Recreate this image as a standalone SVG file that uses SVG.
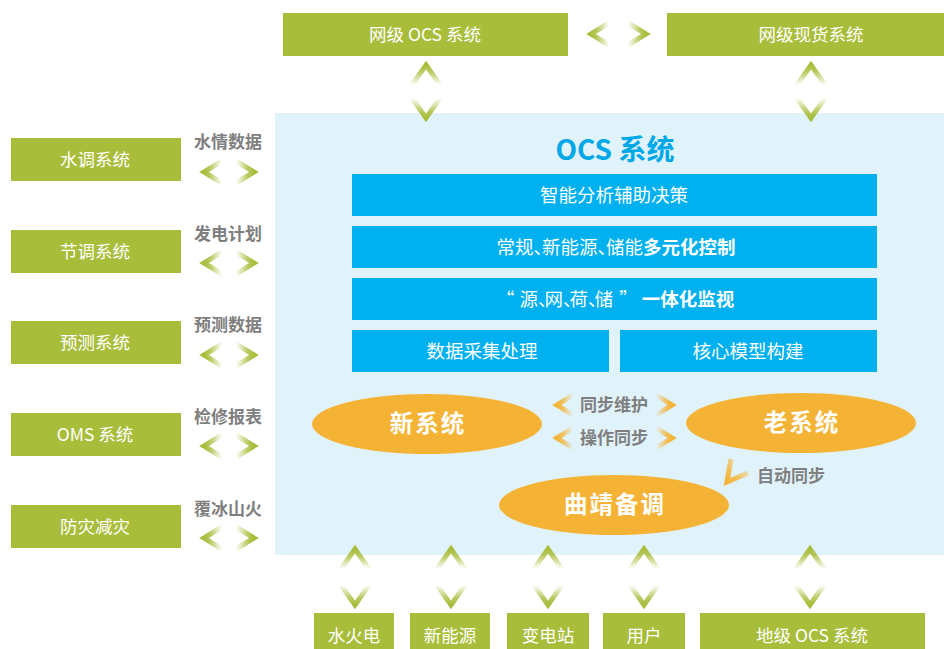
<svg xmlns="http://www.w3.org/2000/svg" xmlns:xlink="http://www.w3.org/1999/xlink" width="944" height="649" viewBox="0 0 944 649">
<style>
text{font-family:"Noto Sans CJK SC","Noto Sans",sans-serif;text-anchor:middle}
.gbox{fill:#A8BD3A}
.bar{fill:#00B0EF}
.wt{fill:#fff;font-size:17.5px}
.bt{fill:#fff;font-size:18.5px}
.cm{letter-spacing:-10px}
.cm2{letter-spacing:-12px}
.lbl{fill:#7F7F7F;font-size:17px;font-weight:bold}
.ell{fill:#F5B335}
.et{fill:#fff;font-size:23.5px;font-weight:bold;letter-spacing:2px}
.ch{fill:none;stroke-width:5;stroke-linejoin:miter}
</style>
<defs>
<linearGradient id="gUp" x1="0" y1="0" x2="0" y2="1"><stop offset="0" stop-color="#A8BD3A"/><stop offset="0.35" stop-color="#A8BD3A" stop-opacity="0.8"/><stop offset="1" stop-color="#A8BD3A" stop-opacity="0"/></linearGradient>
<linearGradient id="gDown" x1="0" y1="1" x2="0" y2="0"><stop offset="0" stop-color="#A8BD3A"/><stop offset="0.35" stop-color="#A8BD3A" stop-opacity="0.8"/><stop offset="1" stop-color="#A8BD3A" stop-opacity="0"/></linearGradient>
<linearGradient id="gLeft" x1="0" y1="0" x2="1" y2="0"><stop offset="0" stop-color="#A8BD3A"/><stop offset="0.35" stop-color="#A8BD3A" stop-opacity="0.8"/><stop offset="1" stop-color="#A8BD3A" stop-opacity="0"/></linearGradient>
<linearGradient id="gRight" x1="1" y1="0" x2="0" y2="0"><stop offset="0" stop-color="#A8BD3A"/><stop offset="0.35" stop-color="#A8BD3A" stop-opacity="0.8"/><stop offset="1" stop-color="#A8BD3A" stop-opacity="0"/></linearGradient>
<linearGradient id="oLeft" x1="0" y1="0" x2="1" y2="0"><stop offset="0" stop-color="#F5B335"/><stop offset="0.35" stop-color="#F5B335" stop-opacity="0.8"/><stop offset="1" stop-color="#F5B335" stop-opacity="0"/></linearGradient>
<linearGradient id="oRight" x1="1" y1="0" x2="0" y2="0"><stop offset="0" stop-color="#F5B335"/><stop offset="0.35" stop-color="#F5B335" stop-opacity="0.8"/><stop offset="1" stop-color="#F5B335" stop-opacity="0"/></linearGradient>
<linearGradient id="oCorner" x1="0" y1="1" x2="1" y2="0"><stop offset="0" stop-color="#F5B335"/><stop offset="0.35" stop-color="#F5B335" stop-opacity="0.8"/><stop offset="1" stop-color="#F5B335" stop-opacity="0"/></linearGradient>
<polyline id="cUp" class="ch" stroke="url(#gUp)" points="-14,10 0,-10 14,10"/>
<polyline id="cDown" class="ch" stroke="url(#gDown)" points="-14,-10 0,10 14,-10"/>
<polyline id="cLeft" class="ch" stroke="url(#gLeft)" points="9,-11 -9,0 9,11"/>
<polyline id="cRight" class="ch" stroke="url(#gRight)" points="-9,-11 9,0 -9,11"/>
<polyline id="oL" class="ch" stroke="url(#oLeft)" points="8,-10 -8,0 8,10"/>
<polyline id="oR" class="ch" stroke="url(#oRight)" points="-8,-10 8,0 -8,10"/>
</defs>
<rect width="944" height="649" fill="#fff"/>
<rect id="ocs-bg" x="275" y="113" width="669" height="442" fill="#E0F2FA"/>

<g id="connectors">
<use href="#cLeft" x="600" y="34"/><use href="#cRight" x="637" y="34"/>
<use href="#cUp" x="426" y="75"/><use href="#cDown" x="426" y="108"/>
<use href="#cUp" x="811" y="75"/><use href="#cDown" x="811" y="108"/>
<use href="#cLeft" x="213" y="172"/><use href="#cRight" x="245" y="172"/>
<use href="#cLeft" x="213" y="263"/><use href="#cRight" x="245" y="263"/>
<use href="#cLeft" x="213" y="355"/><use href="#cRight" x="245" y="355"/>
<use href="#cLeft" x="213" y="446"/><use href="#cRight" x="245" y="446"/>
<use href="#cLeft" x="213" y="538"/><use href="#cRight" x="245" y="538"/>
<use href="#cUp" x="355" y="559"/><use href="#cDown" x="355" y="595"/>
<use href="#cUp" x="451" y="559"/><use href="#cDown" x="451" y="595"/>
<use href="#cUp" x="548" y="559"/><use href="#cDown" x="548" y="595"/>
<use href="#cUp" x="644" y="559"/><use href="#cDown" x="644" y="595"/>
<use href="#cUp" x="810" y="559"/><use href="#cDown" x="810" y="595"/>
<use href="#oL" x="565" y="405"/><use href="#oR" x="664" y="405"/>
<use href="#oL" x="565" y="438"/><use href="#oR" x="664" y="438"/>
<polyline class="ch" stroke="url(#oCorner)" points="731,459 727,482 748,473"/>
<text class="lbl" x="228" y="148">水情数据</text>
<text class="lbl" x="228" y="240">发电计划</text>
<text class="lbl" x="228" y="331">预测数据</text>
<text class="lbl" x="228" y="423">检修报表</text>
<text class="lbl" x="228" y="515">覆冰山火</text>
<text class="lbl" x="614" y="411">同步维护</text>
<text class="lbl" x="614" y="444">操作同步</text>
<text class="lbl" x="791" y="482">自动同步</text>
</g>

<g id="n-wangji-ocs"><rect class="gbox" x="283" y="13" width="285" height="43"/><text class="wt" x="425" y="41">网级 OCS 系统</text></g>
<g id="n-wangji-xianhuo"><rect class="gbox" x="667" y="13" width="277" height="43"/><text class="wt" x="811" y="41">网级现货系统</text></g>

<g id="n-shuidiao"><rect class="gbox" x="11" y="138" width="170" height="43"/><text class="wt" x="95" y="166">水调系统</text></g>
<g id="n-jiediao"><rect class="gbox" x="11" y="230" width="170" height="43"/><text class="wt" x="95" y="258">节调系统</text></g>
<g id="n-yuce"><rect class="gbox" x="11" y="321" width="170" height="43"/><text class="wt" x="95" y="349">预测系统</text></g>
<g id="n-oms"><rect class="gbox" x="11" y="413" width="170" height="43"/><text class="wt" x="95" y="441">OMS 系统</text></g>
<g id="n-fangzai"><rect class="gbox" x="11" y="505" width="170" height="43"/><text class="wt" x="95" y="533">防灾减灾</text></g>

<g id="n-ocs">
<text x="615" y="160" fill="#00A8E8" font-size="28" font-weight="bold">OCS 系统</text>
<rect class="bar" x="352" y="174" width="525" height="42"/><text class="bt" x="614" y="202">智能分析辅助决策</text>
<rect class="bar" x="352" y="226" width="525" height="42"/><text class="bt" x="616" y="254">常规<tspan class="cm">、</tspan>新能源<tspan class="cm">、</tspan>储能<tspan font-weight="bold">多元化控制</tspan></text>
<rect class="bar" x="352" y="278" width="525" height="42"/><text class="bt" x="496" y="306" style="text-anchor:start">“<tspan dx="5">源</tspan><tspan class="cm2">、</tspan>网<tspan class="cm2">、</tspan>荷<tspan class="cm2">、</tspan>储<tspan dx="6">”</tspan><tspan dx="4" font-weight="bold">一体化监视</tspan></text>
<rect class="bar" x="352" y="330" width="257" height="42"/><text class="bt" x="482" y="358">数据采集处理</text>
<rect class="bar" x="620" y="330" width="257" height="42"/><text class="bt" x="748" y="358">核心模型构建</text>
</g>

<g id="n-xin"><ellipse class="ell" cx="427" cy="424" rx="115" ry="30"/><text class="et" x="428" y="432">新系统</text></g>
<g id="n-lao"><ellipse class="ell" cx="801" cy="423" rx="115" ry="30"/><text class="et" x="802" y="431">老系统</text></g>
<g id="n-qujing"><ellipse class="ell" cx="614" cy="505" rx="115" ry="30"/><text class="et" x="615" y="513">曲靖备调</text></g>

<g id="n-shuihuodian"><rect class="gbox" x="314" y="613" width="80" height="40"/><text class="wt" x="354" y="642">水火电</text></g>
<g id="n-xinnengyuan"><rect class="gbox" x="410" y="613" width="80" height="40"/><text class="wt" x="450" y="642">新能源</text></g>
<g id="n-biandianzhan"><rect class="gbox" x="507" y="613" width="82" height="40"/><text class="wt" x="548" y="642">变电站</text></g>
<g id="n-yonghu"><rect class="gbox" x="603" y="613" width="82" height="40"/><text class="wt" x="644" y="642">用户</text></g>
<g id="n-diji-ocs"><rect class="gbox" x="700" y="613" width="225" height="40"/><text class="wt" x="812" y="642">地级 OCS 系统</text></g>
</svg>
